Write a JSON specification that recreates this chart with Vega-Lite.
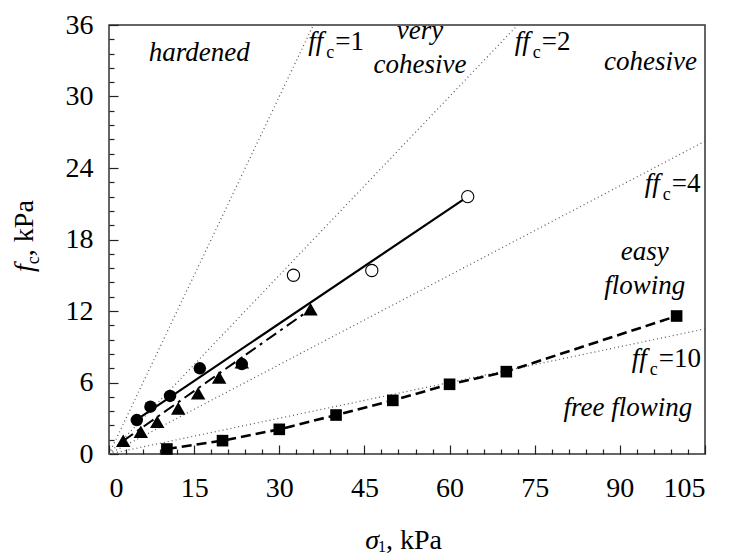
{
  "$schema": "https://vega.github.io/schema/vega-lite/v6.json",
  "width": 596,
  "height": 429,
  "autosize": {"type": "none"},
  "padding": {"left": 109, "top": 25, "right": 24, "bottom": 101},
  "background": "white",
  "config": {
    "view": {"stroke": "#333333", "strokeWidth": 1.5},
    "axis": {"labelFont": "Liberation Serif", "labelFontSize": 28, "labelColor": "black", "tickColor": "#222222", "tickWidth": 1.2, "grid": false, "domain": false, "title": null},
    "text": {"font": "Liberation Serif", "color": "black"}
  },
  "datasets": {
    "lines": [
      {"x": 0, "y": 0, "g": "ff1"}, {"x": 36, "y": 36, "g": "ff1"},
      {"x": 0, "y": 0, "g": "ff2"}, {"x": 72, "y": 36, "g": "ff2"},
      {"x": 0, "y": 0, "g": "ff4"}, {"x": 105, "y": 26.25, "g": "ff4"},
      {"x": 0, "y": 0, "g": "ff10"}, {"x": 105, "y": 10.5, "g": "ff10"},
      {"x": 4.3, "y": 2.7, "g": "A"}, {"x": 63.2, "y": 21.6, "g": "A"},
      {"x": 2.5, "y": 1.1, "g": "B"}, {"x": 35.5, "y": 12.15, "g": "B"},
      {"x": 10.2, "y": 0.42, "g": "C"}, {"x": 20, "y": 1.12, "g": "C"}, {"x": 30, "y": 2.07, "g": "C"}, {"x": 40, "y": 3.27, "g": "C"}, {"x": 50, "y": 4.5, "g": "C"}, {"x": 60, "y": 5.85, "g": "C"}, {"x": 70, "y": 6.91, "g": "C"}, {"x": 100, "y": 11.58, "g": "C"}
    ],
    "pts": [
      {"x": 32.5, "y": 15.0, "s": "open"}, {"x": 46.3, "y": 15.4, "s": "open"}, {"x": 63.2, "y": 21.6, "s": "open"},
      {"x": 2.5, "y": 1.12, "s": "tri"}, {"x": 5.6, "y": 1.87, "s": "tri"}, {"x": 8.5, "y": 2.71, "s": "tri"}, {"x": 12.2, "y": 3.83, "s": "tri"}, {"x": 15.7, "y": 5.09, "s": "tri"}, {"x": 19.4, "y": 6.43, "s": "tri"}, {"x": 23.4, "y": 7.7, "s": "tri"}, {"x": 35.5, "y": 12.14, "s": "tri"},
      {"x": 4.9, "y": 2.85, "s": "dot"}, {"x": 7.3, "y": 3.97, "s": "dot"}, {"x": 10.75, "y": 4.87, "s": "dot"}, {"x": 16.0, "y": 7.19, "s": "dot"}, {"x": 23.4, "y": 7.55, "s": "dot"},
      {"x": 10.2, "y": 0.42, "s": "sq"}, {"x": 20, "y": 1.12, "s": "sq"}, {"x": 30, "y": 2.07, "s": "sq"}, {"x": 40, "y": 3.27, "s": "sq"}, {"x": 50, "y": 4.5, "s": "sq"}, {"x": 60, "y": 5.85, "s": "sq"}, {"x": 70, "y": 6.91, "s": "sq"}, {"x": 100, "y": 11.58, "s": "sq"}
    ],
    "regions": [
      {"x": 15.9, "y": 33.0, "label": "hardened"},
      {"x": 54.8, "y": 34.8, "label": "very\ncohesive"},
      {"x": 95.4, "y": 32.2, "label": "cohesive"},
      {"x": 94.4, "y": 16.3, "label": "easy\nflowing"},
      {"x": 91.4, "y": 3.2, "label": "free flowing"}
    ],
    "ff": [
      {"x": 35.1, "y": 33.9, "ff": "ff", "sub": "c", "eq": "=1"},
      {"x": 71.5, "y": 33.9, "ff": "ff", "sub": "c", "eq": "=2"},
      {"x": 94.4, "y": 22.0, "ff": "ff", "sub": "c", "eq": "=4"},
      {"x": 92.1, "y": 7.3, "ff": "ff", "sub": "c", "eq": "=10"}
    ],
    "ytitle": [{"x": -13.4, "y": 16.6, "a": "f", "b": "c", "c": ", kPa"}],
    "xtitle": [{"x": 48.8, "y": -7.95, "a": "σ", "b": "1", "c": ", kPa"}]
  },
  "resolve": {"axis": {"x": "independent", "y": "independent"}},
  "layer": [
    {
      "data": {"name": "lines"},
      "transform": [{"filter": "indexof(['ff1','ff2','ff4','ff10'], datum.g) >= 0"}],
      "mark": {"type": "line", "strokeDash": [1, 3], "strokeWidth": 1.2, "color": "#555555"},
      "encoding": {
        "x": {"field": "x", "type": "quantitative", "scale": {"domain": [0, 105], "nice": false}, "axis": {"orient": "bottom", "values": [0, 15, 30, 45, 60, 75, 90, 105], "tickSize": -9, "labelPadding": 29}},
        "y": {"field": "y", "type": "quantitative", "scale": {"domain": [0, 36], "nice": false}, "axis": {"orient": "left", "values": [0, 6, 12, 18, 24, 30, 36], "tickSize": -9, "labelPadding": 25}},
        "detail": {"field": "g"}
      }
    },
    {
      "data": {"name": "lines"},
      "transform": [{"filter": "datum.g == 'ff1'"}],
      "mark": {"type": "line", "opacity": 0},
      "encoding": {
        "x": {"field": "x", "type": "quantitative", "axis": {"orient": "bottom", "values": [3, 6, 9, 12, 18, 21, 24, 27, 33, 36, 39, 42, 48, 51, 54, 57, 63, 66, 69, 72, 78, 81, 84, 87, 93, 96, 99, 102], "tickSize": -5, "labels": false}},
        "y": {"field": "y", "type": "quantitative", "axis": {"orient": "left", "values": [1.2, 2.4, 3.6, 4.8, 7.2, 8.4, 9.6, 10.8, 13.2, 14.4, 15.6, 16.8, 19.2, 20.4, 21.6, 22.8, 25.2, 26.4, 27.6, 28.8, 31.2, 32.4, 33.6, 34.8], "tickSize": -5, "labels": false}}
      }
    },
    {
      "data": {"name": "lines"},
      "transform": [{"filter": "datum.g == 'A'"}],
      "mark": {"type": "line", "strokeWidth": 2.2, "color": "black"},
      "encoding": {"x": {"field": "x", "type": "quantitative", "axis": null}, "y": {"field": "y", "type": "quantitative", "axis": null}}
    },
    {
      "data": {"name": "lines"},
      "transform": [{"filter": "datum.g == 'B'"}],
      "mark": {"type": "line", "strokeWidth": 2, "color": "black", "strokeDash": [12, 5, 3, 5]},
      "encoding": {"x": {"field": "x", "type": "quantitative", "axis": null}, "y": {"field": "y", "type": "quantitative", "axis": null}}
    },
    {
      "data": {"name": "lines"},
      "transform": [{"filter": "datum.g == 'C'"}],
      "mark": {"type": "line", "strokeWidth": 2.6, "color": "black", "strokeDash": [10, 5]},
      "encoding": {"x": {"field": "x", "type": "quantitative", "axis": null}, "y": {"field": "y", "type": "quantitative", "axis": null}}
    },
    {
      "data": {"name": "pts"},
      "transform": [{"filter": "datum.s == 'open'"}],
      "mark": {"type": "point", "shape": "circle", "size": 150, "filled": false, "fill": "white", "fillOpacity": 1, "stroke": "black", "strokeWidth": 1.1, "opacity": 1},
      "encoding": {"x": {"field": "x", "type": "quantitative", "axis": null}, "y": {"field": "y", "type": "quantitative", "axis": null}}
    },
    {
      "data": {"name": "pts"},
      "transform": [{"filter": "datum.s == 'tri'"}],
      "mark": {"type": "point", "shape": "triangle-up", "size": 210, "filled": true, "color": "black", "opacity": 1},
      "encoding": {"x": {"field": "x", "type": "quantitative", "axis": null}, "y": {"field": "y", "type": "quantitative", "axis": null}}
    },
    {
      "data": {"name": "pts"},
      "transform": [{"filter": "datum.s == 'dot'"}],
      "mark": {"type": "point", "shape": "circle", "size": 155, "filled": true, "color": "black", "opacity": 1},
      "encoding": {"x": {"field": "x", "type": "quantitative", "axis": null}, "y": {"field": "y", "type": "quantitative", "axis": null}}
    },
    {
      "data": {"name": "pts"},
      "transform": [{"filter": "datum.s == 'sq'"}],
      "mark": {"type": "point", "shape": "square", "size": 135, "filled": true, "color": "black", "opacity": 1},
      "encoding": {"x": {"field": "x", "type": "quantitative", "axis": null}, "y": {"field": "y", "type": "quantitative", "axis": null}}
    },
    {
      "data": {"name": "regions"},
      "mark": {"type": "text", "font": "Liberation Serif", "fontStyle": "italic", "fontSize": 27, "align": "center", "baseline": "alphabetic", "lineBreak": "\n", "lineHeight": 34, "color": "black"},
      "encoding": {"x": {"field": "x", "type": "quantitative", "axis": null}, "y": {"field": "y", "type": "quantitative", "axis": null}, "text": {"field": "label"}}
    },
    {
      "data": {"name": "ff"},
      "mark": {"type": "text", "font": "Liberation Serif", "fontStyle": "italic", "fontSize": 27, "align": "left", "baseline": "alphabetic", "color": "black"},
      "encoding": {"x": {"field": "x", "type": "quantitative", "axis": null}, "y": {"field": "y", "type": "quantitative", "axis": null}, "text": {"field": "ff"}}
    },
    {
      "data": {"name": "ff"},
      "mark": {"type": "text", "font": "Liberation Serif", "fontSize": 18, "align": "left", "baseline": "alphabetic", "dx": 18, "dy": 8, "color": "black"},
      "encoding": {"x": {"field": "x", "type": "quantitative", "axis": null}, "y": {"field": "y", "type": "quantitative", "axis": null}, "text": {"field": "sub"}}
    },
    {
      "data": {"name": "ff"},
      "mark": {"type": "text", "font": "Liberation Serif", "fontSize": 27, "align": "left", "baseline": "alphabetic", "dx": 27, "color": "black"},
      "encoding": {"x": {"field": "x", "type": "quantitative", "axis": null}, "y": {"field": "y", "type": "quantitative", "axis": null}, "text": {"field": "eq"}}
    },
    {
      "data": {"name": "ytitle"},
      "mark": {"type": "text", "font": "Liberation Serif", "fontStyle": "italic", "fontSize": 28, "align": "right", "baseline": "alphabetic", "angle": 270, "dx": -8, "color": "black"},
      "encoding": {"x": {"field": "x", "type": "quantitative", "axis": null}, "y": {"field": "y", "type": "quantitative", "axis": null}, "text": {"field": "a"}}
    },
    {
      "data": {"name": "ytitle"},
      "mark": {"type": "text", "font": "Liberation Serif", "fontSize": 18, "align": "right", "baseline": "alphabetic", "angle": 270, "dy": 6, "color": "black"},
      "encoding": {"x": {"field": "x", "type": "quantitative", "axis": null}, "y": {"field": "y", "type": "quantitative", "axis": null}, "text": {"field": "b"}}
    },
    {
      "data": {"name": "ytitle"},
      "mark": {"type": "text", "font": "Liberation Serif", "fontSize": 28, "align": "left", "baseline": "alphabetic", "angle": 270, "color": "black"},
      "encoding": {"x": {"field": "x", "type": "quantitative", "axis": null}, "y": {"field": "y", "type": "quantitative", "axis": null}, "text": {"field": "c"}}
    },
    {
      "data": {"name": "xtitle"},
      "mark": {"type": "text", "font": "Liberation Serif", "fontStyle": "italic", "fontSize": 28, "align": "right", "baseline": "alphabetic", "dx": -7, "color": "black"},
      "encoding": {"x": {"field": "x", "type": "quantitative", "axis": null}, "y": {"field": "y", "type": "quantitative", "axis": null}, "text": {"field": "a"}}
    },
    {
      "data": {"name": "xtitle"},
      "mark": {"type": "text", "font": "Liberation Serif", "fontSize": 16, "align": "right", "baseline": "alphabetic", "dy": 3, "color": "black"},
      "encoding": {"x": {"field": "x", "type": "quantitative", "axis": null}, "y": {"field": "y", "type": "quantitative", "axis": null}, "text": {"field": "b"}}
    },
    {
      "data": {"name": "xtitle"},
      "mark": {"type": "text", "font": "Liberation Serif", "fontSize": 28, "align": "left", "baseline": "alphabetic", "color": "black"},
      "encoding": {"x": {"field": "x", "type": "quantitative", "axis": null}, "y": {"field": "y", "type": "quantitative", "axis": null}, "text": {"field": "c"}}
    }
  ]
}
